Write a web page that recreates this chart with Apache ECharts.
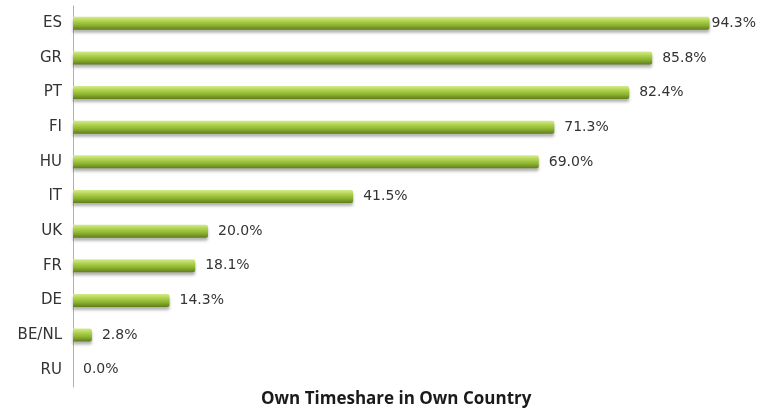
<!DOCTYPE html>
<html>
<head>
<meta charset="utf-8">
<title>Own Timeshare in Own Country</title>
<script src="https://cdn.jsdelivr.net/npm/echarts@6/dist/echarts.min.js"></script>
<style>
  html, body { margin: 0; padding: 0; background: #fff; }
  #chart { width: 768px; height: 413px; }
</style>
</head>
<body>
<div id="chart"></div>
<script>
// categories listed bottom -> top (category axis on y starts at the bottom)
const countries = ['RU', 'BE/NL', 'DE', 'FR', 'UK', 'IT', 'HU', 'FI', 'PT', 'GR', 'ES'];
const shares = [0.0, 2.8, 14.3, 18.1, 20.0, 41.5, 69.0, 71.3, 82.4, 85.8, 94.3];
const chartTitle = 'Own Timeshare in Own Country';

const chart = echarts.init(document.getElementById('chart'));

// green cylinder look
const barFill = new echarts.graphic.LinearGradient(0, 0, 0, 1, [
  { offset: 0, color: '#d4ec8a' },
  { offset: 0.3, color: '#b0d452' },
  { offset: 0.65, color: '#8cb230' },
  { offset: 1, color: '#5e7e1c' }
]);

chart.setOption({
  animation: false,
  title: {
    text: chartTitle,
    left: 256,
    bottom: 0,
    textStyle: { fontFamily: 'Open Sans', fontSize: 17, fontWeight: 'bold', color: '#1a1a1a' }
  },
  grid: { left: 73, right: 20, top: 6, bottom: 26, containLabel: false },
  xAxis: {
    type: 'value',
    min: 0,
    max: 100,
    show: false
  },
  yAxis: {
    type: 'category',
    data: countries,
    axisLine: { show: true, lineStyle: { color: '#b0b0b0', width: 1 } },
    axisTick: { show: false },
    axisLabel: { color: '#333', fontSize: 15, fontFamily: 'DejaVu Sans', margin: 11 }
  },
  series: [{
    type: 'bar',
    data: shares.map((v, i) => ({
      value: v,
      label: { distance: i === shares.length - 1 ? 2 : 10 }
    })),
    barWidth: 13,
    itemStyle: {
      color: barFill,
      borderRadius: [0, 2, 2, 0],
      shadowColor: 'rgba(0,0,0,0.3)',
      shadowBlur: 3,
      shadowOffsetY: 3
    },
    label: {
      show: true,
      position: 'right',
      color: '#333',
      fontSize: 14,
      fontFamily: 'DejaVu Sans',
      formatter: p => p.value.toFixed(1) + '%'
    }
  }]
});

window.onresize = function () {
  chart.resize();
};
</script>
</body>
</html>
